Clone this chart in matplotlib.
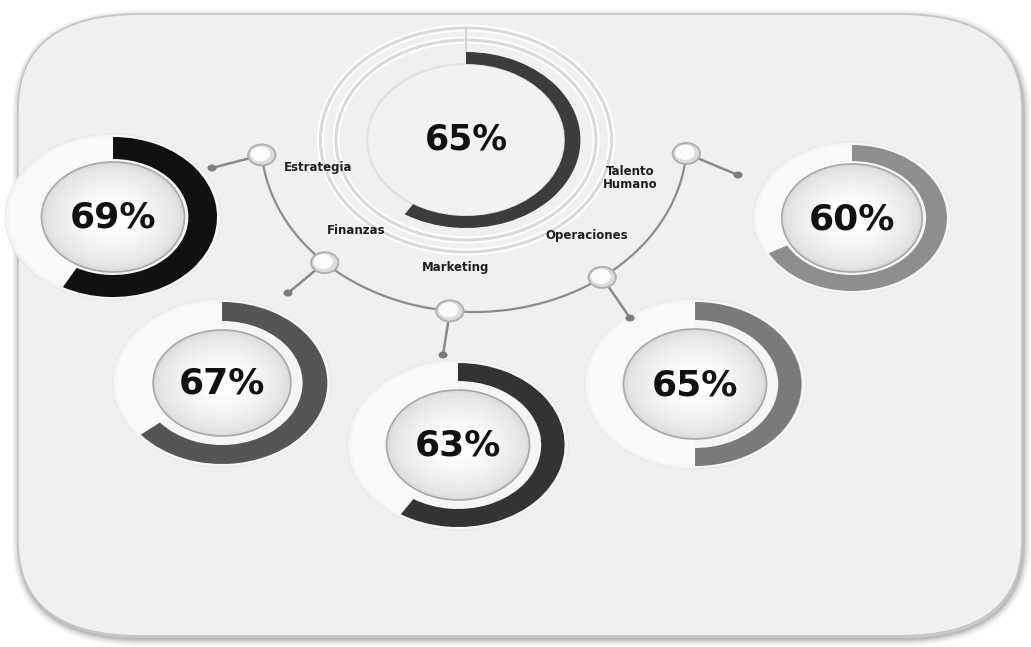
import matplotlib
matplotlib.use("Agg")
import matplotlib.pyplot as plt
from matplotlib.patches import Wedge, Circle, Arc, FancyBboxPatch
import numpy as np

# ---------------- data ----------------
areas = ["Estrategia", "Finanzas", "Marketing", "Operaciones", "Talento\nHumano"]
pct_values = [69, 67, 63, 65, 60]          # numbers printed in the donuts
arc_shown = [58, 64, 59, 50, 67]           # share of the ring that is filled
bar_colors = ["#111111", "#555555", "#333333", "#7a7a7a", "#8e8e8e"]
center_value = 65
center_arc = 59
center_color = "#3c3c3c"

# ---------------- layout (pixels) ----------------
W, H = 1031, 647
S = 1.3  # horizontal stretch of the whole infographic
donut_xy = [(113, 217), (222, 383), (458, 445), (695, 384), (852, 218)]
donut_R = [80, 81, 82, 82, 73]
donut_w = [22, 19, 18, 18, 16]
disk_r = [55, 53, 55, 55, 54]
label_xy = [(318, 168), (356, 230), (456, 268), (587, 236), (630, 178)]
node_t = [175, 134.5, 96.5, 53, 4.5]        # position of each node on the connector arc (deg)
dot_xy = [(212, 168), (288, 293), (443, 355), (630, 318), (738, 175)]
arc_c, arc_a, arc_b = (474, 140), 213, 172
center_xy, center_R = (466, 140), 88

fig = plt.figure(figsize=(W / 100, H / 100), dpi=100)
fig.patch.set_facecolor("white")
ax = fig.add_axes([0, 0, 1, 1])
ax.set_xlim(0, W / S)
ax.set_ylim(H, 0)
ax.axis("off")


def X(px):
    return px / S


# ---------------- background panel ----------------
for c, lw in [("#f4f4f4", 10), ("#e4e4e4", 7), ("#d0d0d0", 4), ("#bdbdbd", 2)]:
    ax.add_patch(FancyBboxPatch((X(18) + 1, 15 + 2), X(1022) - X(18), 622,
                                boxstyle="round,pad=0,rounding_size=95",
                                fc="none", ec=c, lw=lw, zorder=0))
ax.add_patch(FancyBboxPatch((X(18), 14), X(1022) - X(18), 622,
                            boxstyle="round,pad=0,rounding_size=95",
                            fc="#f0f0f0", ec="#c4c4c4", lw=1.2, zorder=1))


def disk(cx, cy, r, z):
    n = 18
    for k in range(n):
        rr = r * (1 - k / n * 0.85)
        g = 0.86 + 0.14 * (k / (n - 1)) ** 0.6
        ax.add_patch(Circle((X(cx), cy), rr, fc=(g, g, g), ec="none", zorder=z))
    ax.add_patch(Circle((X(cx), cy), r, fc="none", ec="#a8a8a8", lw=1.2, zorder=z + 0.5))


def donut(cx, cy, R, w, rd, frac, color, text, fs):
    c = (X(cx), cy)
    ax.add_patch(Circle(c, R + 3, fc="#f5f5f5", ec="#e9e9e9", lw=0.8, zorder=2))
    ax.add_patch(Wedge(c, R, -90 + 360 * frac / 100, 270, width=R - rd,
                       fc="#f9f9f9", ec="none", zorder=3))
    ax.add_patch(Wedge(c, R, -90, -90 + 360 * frac / 100, width=w,
                       fc=color, ec="none", zorder=4))
    disk(cx, cy, rd, 5)
    ax.text(X(cx), cy + 1, text, ha="center", va="center", fontsize=fs,
            fontweight="bold", color="#111111", family="DejaVu Sans", zorder=8)


# ---------------- central donut ----------------
cc = (X(center_xy[0]), center_xy[1])
for r, c, lw in [(112, "#dadada", 2.2), (100, "#dadada", 2.2)]:
    ax.add_patch(Circle(cc, r, fc="none", ec="white", lw=lw + 3, zorder=2))
    ax.add_patch(Circle(cc, r, fc="none", ec=c, lw=lw, zorder=2))
ax.plot([cc[0], cc[0]], [center_xy[1] - 112, center_xy[1] - center_R],
        color="#d6d6d6", lw=1.5, zorder=2)
ax.add_patch(Circle(cc, center_R - 12, fc="#f2f2f2", ec="#e2e2e2", lw=1.5, zorder=2))
ax.add_patch(Wedge(cc, center_R, -90, -90 + 360 * center_arc / 100, width=12,
                   fc=center_color, ec="none", zorder=4))
ax.text(cc[0], center_xy[1], f"{center_value}%", ha="center", va="center",
        fontsize=25, fontweight="bold", color="#111111", zorder=8)

# ---------------- connector arc with nodes ----------------
ax.add_patch(Arc((X(arc_c[0]), arc_c[1]), 2 * X(arc_a), 2 * arc_b,
                 theta1=min(node_t), theta2=max(node_t),
                 color="#8c8c8c", lw=1.6, zorder=6))
for t, (dx, dy) in zip(node_t, dot_xy):
    nx = X(arc_c[0]) + X(arc_a) * np.cos(np.radians(t))
    ny = arc_c[1] + arc_b * np.sin(np.radians(t))
    ax.plot([nx, X(dx)], [ny, dy], color="#8a8a8a", lw=1.8, zorder=6)
    ax.add_patch(Circle((X(dx), dy), 3.5, fc="#7c7c7c", ec="none", zorder=6))
    ax.add_patch(Circle((nx, ny), 10.5, fc="#dcdcdc", ec="#b0b0b0", lw=1.4, zorder=7))
    ax.add_patch(Circle((nx - 1, ny - 1), 7.5, fc="#fbfbfb", ec="none", zorder=7))

for name, (lx, ly) in zip(areas, label_xy):
    ax.text(X(lx), ly, name, ha="center", va="center", fontsize=8.5,
            fontweight="bold", color="#1e1e1e", linespacing=1.0, zorder=8)

# ---------------- outer donuts ----------------
for (cx, cy), R, w, rd, frac, col, v in zip(donut_xy, donut_R, donut_w, disk_r,
                                            arc_shown, bar_colors, pct_values):
    donut(cx, cy, R, w, rd, frac, col, f"{v}%", 26)

fig.savefig("out.png", dpi=100, facecolor="white")
